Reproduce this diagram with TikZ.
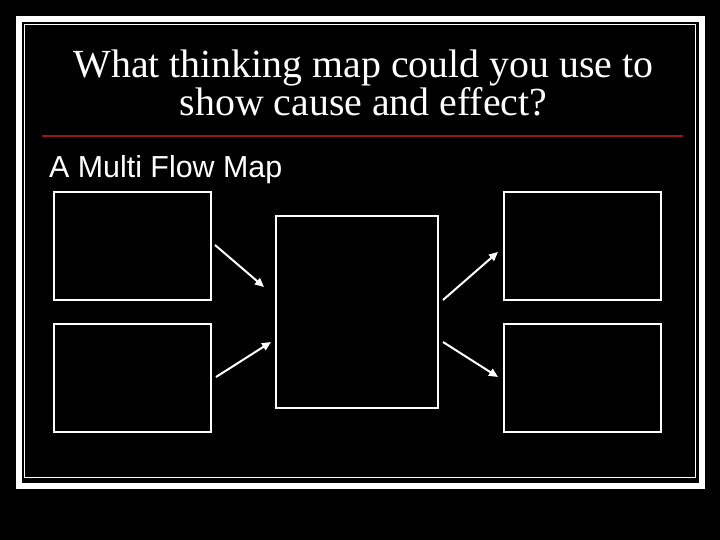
\documentclass[tikz,border=0pt]{standalone}
\usepackage{fontspec}
\setmainfont{Liberation Serif}
\newfontfamily\arialfont{Liberation Sans}
\usetikzlibrary{arrows.meta}
\definecolor{rulered}{RGB}{150,22,22}
\tikzset{
  box/.style={draw=white, line width=1.3bp, fill=black, inner sep=0pt},
  flowarrow/.style={draw=white, line width=2bp, -{Triangle[length=9bp,width=8bp]}},
}
\begin{document}
\begin{tikzpicture}[x=1bp,y=-1bp]
\fill[black] (0,0) rectangle (720,540);
\useasboundingbox (0,0) rectangle (720,540);
% frame
\draw[white, line width=6bp] (19,19) rectangle (702,486);
\draw[white, line width=1.4bp] (24.5,24.5) rectangle (695.5,477.5);
% title
\node[text=white, align=center, inner sep=0pt, anchor=base,
      font=\fontsize{40}{38}\selectfont] (title) at (363.5,115.5)
  {What thinking map could you use to\\show cause and effect?};
% red rule
\draw[rulered, line width=2bp] (42,136.5) coordinate (r1) -- (683,136.5) coordinate (r2);
% subtitle
\node[text=white, inner sep=0pt, anchor=base west,
      font=\arialfont\fontsize{30.5}{32}\selectfont] (sub) at (49,177.5) {A Multi Flow Map};
% boxes
\node[box, minimum width=157bp, minimum height=108bp] (lt) at (132.5,246) {};
\node[box, minimum width=157bp, minimum height=108bp] (lb) at (132.5,378) {};
\node[box, minimum width=162bp, minimum height=192bp] (c) at (357,312) {};
\node[box, minimum width=157bp, minimum height=108bp] (rt) at (582.5,246) {};
\node[box, minimum width=157bp, minimum height=108bp] (rb) at (582.5,378) {};
% arrows
\coordinate (a1s) at (215,245);
\coordinate (a1e) at (264,287);
\coordinate (a2s) at (216,377);
\coordinate (a2e) at (271,342);
\coordinate (a3s) at (443,300);
\coordinate (a3e) at (498,252);
\coordinate (a4s) at (443,342);
\coordinate (a4e) at (498,377);
\draw[flowarrow] (a1s) -- (a1e);
\draw[flowarrow] (a2s) -- (a2e);
\draw[flowarrow] (a3s) -- (a3e);
\draw[flowarrow] (a4s) -- (a4e);
\end{tikzpicture}
\end{document}
